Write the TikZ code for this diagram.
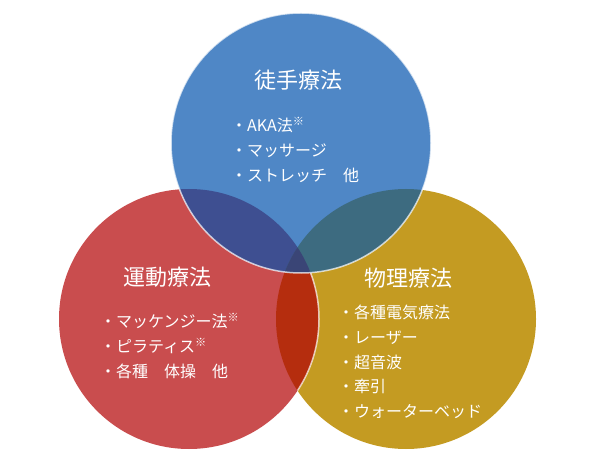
\documentclass[tikz,border=0pt]{standalone}
\usepackage{fontspec}
\setmainfont{Noto Sans CJK JP}
\usepackage{tikz}

\begin{document}
\begin{tikzpicture}[
  x=1pt, y=-1pt,
  ring/.style={draw=white, draw opacity=.7, line width=1.5pt},
  heading/.style={text=white, inner sep=0pt, font=\fontsize{22}{26}\selectfont},
  items/.style={text=white, inner sep=0pt, anchor=west, align=left,
    font=\fontsize{16}{24.8}\selectfont}
]
\definecolor{manualblue}{HTML}{4F87C6}
\definecolor{exercisered}{HTML}{C94D4E}
\definecolor{physicalgold}{HTML}{C49B22}
\definecolor{lensbluered}{HTML}{3E4F91}
\definecolor{lensbluegold}{HTML}{3D6B80}
\definecolor{lensredgold}{HTML}{B52D0E}
\definecolor{lensall}{HTML}{3A4576}
\newcommand{\note}{\textsuperscript{※}}
\def\rad{130pt}

\useasboundingbox (0,0) rectangle (602,462);

% circle centres
\coordinate (manual) at (301,143);
\coordinate (exercise) at (189,319);
\coordinate (physical) at (406,319);

% lower two circles
\fill[physicalgold] (physical) circle[radius=\rad];
\fill[exercisered] (exercise) circle[radius=\rad];
\begin{scope}
  \clip (physical) circle[radius=\rad];
  \fill[lensredgold] (exercise) circle[radius=\rad];
  \draw[ring] (exercise) circle[radius=\rad];
\end{scope}

% top circle and its overlaps
\fill[manualblue] (manual) circle[radius=\rad];
\begin{scope}
  \clip (manual) circle[radius=\rad];
  \fill[lensbluered] (exercise) circle[radius=\rad];
  \fill[lensbluegold] (physical) circle[radius=\rad];
  \clip (exercise) circle[radius=\rad];
  \fill[lensall] (physical) circle[radius=\rad];
\end{scope}
\draw[ring] (manual) circle[radius=\rad];

% labels
\node[heading] (manualtitle) at (298,80) {徒手療法};
\node[items] (manuallist) at (231,150)
  {・AKA法\note\\・マッサージ\\・ストレッチ　他};

\node[heading] (exercisetitle) at (167,277) {運動療法};
\node[items] (exerciselist) at (100,346)
  {・マッケンジー法\note\\・ピラティス\note\\・各種　体操　他};

\node[heading] (physicaltitle) at (408,278) {物理療法};
\node[items] (physicallist) at (338,362)
  {・各種電気療法\\・レーザー\\・超音波\\・牽引\\・ウォーターベッド};
\end{tikzpicture}
\end{document}
